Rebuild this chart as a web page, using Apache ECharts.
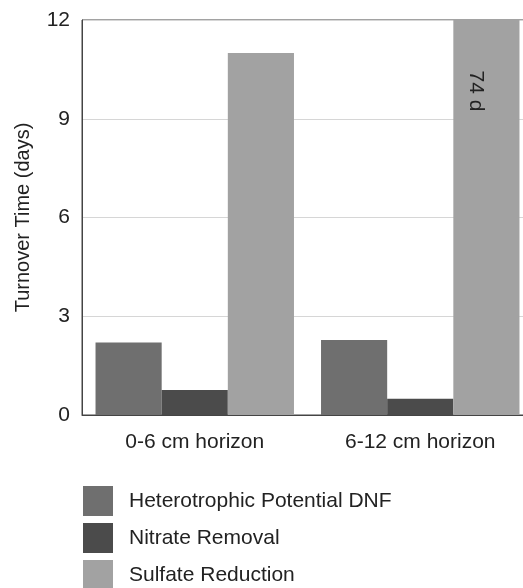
<!DOCTYPE html>
<html>
<head>
<meta charset="utf-8">
<script src="https://cdn.jsdelivr.net/npm/echarts@6/dist/echarts.min.js"></script>
<style>html,body{margin:0;padding:0;background:#fff;}#c{width:523px;height:588px;}</style>
</head>
<body>
<div id="c"></div>
<script>
const categories = ['0-6 cm horizon', '6-12 cm horizon'];
const seriesNames = ['Heterotrophic Potential DNF', 'Nitrate Removal', 'Sulfate Reduction'];
const hpdnf = [2.2, 2.28];
const nitrate = [0.76, 0.49];
const sulfate = [11.0, 74];
const yTicks = [0, 3, 6, 9, 12];
const colors = ['#6f6f6f', '#4b4b4b', '#a2a2a2'];

const yMax = yTicks[yTicks.length - 1];
const FONT = 'Liberation Sans, Arial, Helvetica, sans-serif';

function mk(name, vals, color) {
  return {
    name: name,
    type: 'bar',
    barGap: '0%',
    barCategoryGap: '12%',
    itemStyle: { color: color },
    data: vals.map(v => {
      if (v > yMax) {
        return {
          value: yMax,
          label: {
            show: true,
            position: 'insideTop',
            rotate: -90,
            distance: 68,
            offset: [3, 0],
            formatter: v + ' d',
            fontSize: 21,
            color: '#222',
            fontFamily: FONT
          }
        };
      }
      return v;
    })
  };
}

const chart = echarts.init(document.getElementById('c'), null, { renderer: 'canvas' });
chart.setOption({
  animation: false,
  backgroundColor: '#fff',
  textStyle: { fontFamily: FONT },
  grid: { left: 82, top: 20, height: 395, width: 451, outerBoundsMode: 'none', containLabel: false, show: true, borderColor: '#444', borderWidth: 1, backgroundColor: 'transparent' },
  legend: {
    orient: 'vertical',
    left: 83,
    top: 486,
    height: 120,
    padding: 0,
    itemWidth: 30,
    itemHeight: 30,
    itemGap: 7,
    icon: 'rect',
    textStyle: { fontSize: 21, color: '#222', fontFamily: FONT, padding: [0, 0, 0, 11] },
    data: seriesNames
  },
  xAxis: {
    type: 'category',
    data: categories,
    axisLine: { show: true, lineStyle: { color: '#444', width: 1 } },
    axisTick: { show: false },
    axisLabel: { fontSize: 21, color: '#222', margin: 17, fontFamily: FONT }
  },
  yAxis: {
    type: 'value',
    min: 0,
    max: yMax,
    interval: 3,
    name: 'Turnover Time (days)',
    nameLocation: 'middle',
    nameGap: 49,
    nameTextStyle: { fontSize: 20, color: '#222', fontFamily: FONT },
    axisLine: { show: true, lineStyle: { color: '#444', width: 1 } },
    axisTick: { show: false },
    axisLabel: { fontSize: 21, color: '#222', margin: 12, fontFamily: FONT },
    splitLine: { show: true, lineStyle: { color: '#d6d6d6', width: 1 } }
  },
  series: [
    mk(seriesNames[0], hpdnf, colors[0]),
    mk(seriesNames[1], nitrate, colors[1]),
    mk(seriesNames[2], sulfate, colors[2])
  ]
});
</script>
</body>
</html>
